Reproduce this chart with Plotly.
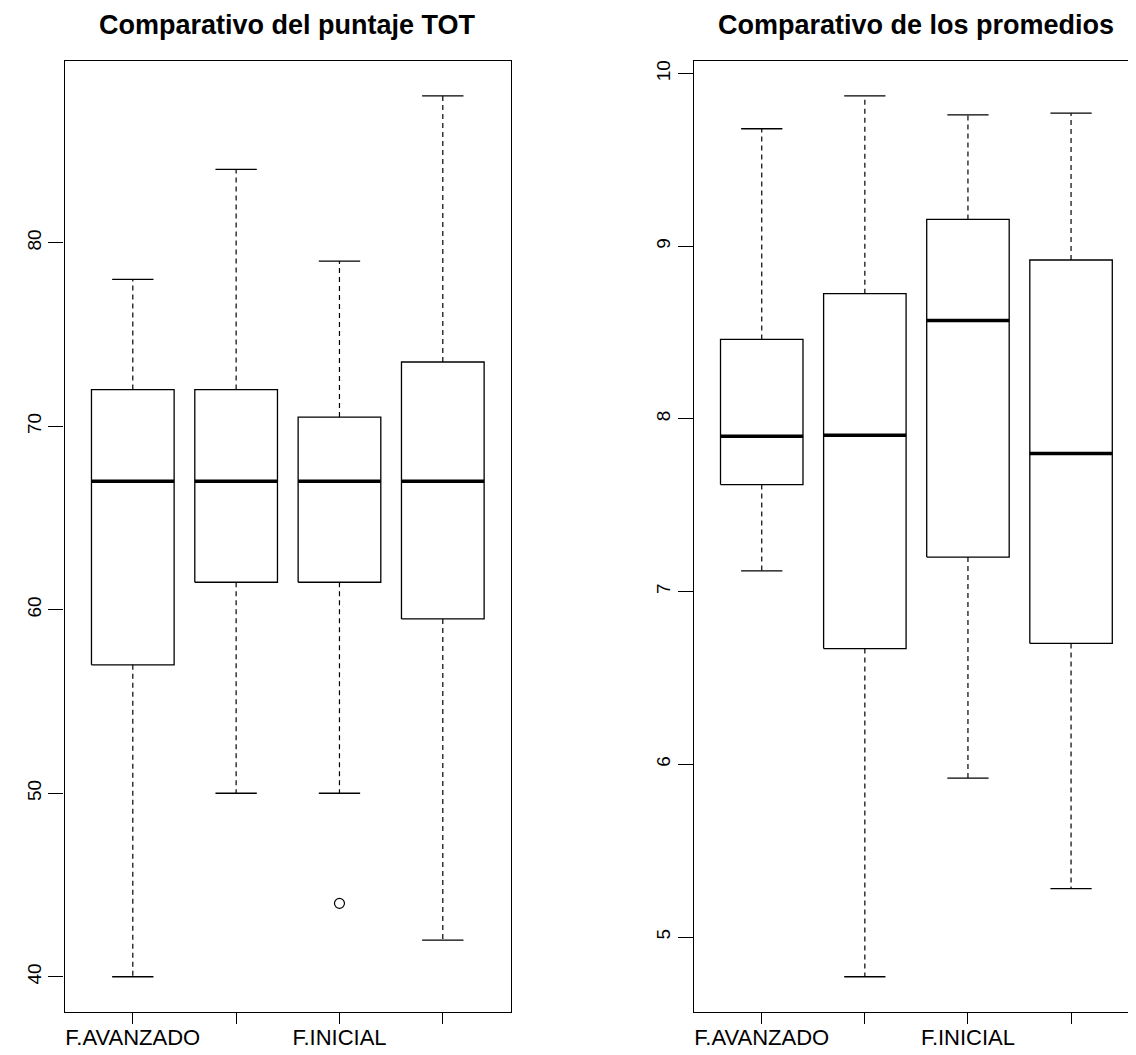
import plotly.graph_objects as go

# ---- data ----
TICK_LABELS = ["F.AVANZADO", "", "F.INICIAL", ""]
POSITIONS = [1, 2, 3, 4]

# Panel 1: puntaje TOT
tot_lower = [40, 50, 50, 42]
tot_q1 = [57, 61.5, 61.5, 59.5]
tot_median = [67, 67, 67, 67]
tot_q3 = [72, 72, 70.5, 73.5]
tot_upper = [78, 84, 79, 88]
tot_outlier_x = [3]
tot_outlier_y = [44]

# Panel 2: promedios
prom_lower = [7.12, 4.77, 5.92, 5.28]
prom_q1 = [7.62, 6.67, 7.20, 6.70]
prom_median = [7.90, 7.905, 8.57, 7.80]
prom_q3 = [8.46, 8.725, 9.155, 8.92]
prom_upper = [9.68, 9.87, 9.76, 9.77]

TITLES = ["Comparativo del puntaje TOT", "Comparativo de los promedios"]

# ---- style ----
FONT = "Liberation Sans, Arial, Helvetica, sans-serif"
OFF = 8  # page body margin
W, H = 1136 - OFF, 1055 - OFF
BOX_HALF = 0.4
CAP_HALF = 0.2
LW = 1.3


def px_x(v):
    return (v - OFF) / W


def px_y(v):
    return 1 - (v - OFF) / H


fig = go.Figure()


def add_panel(xa, ya, lower, q1, med, q3, upper):
    bx, by, mx, my, wx, wy, cx, cy = [], [], [], [], [], [], [], []
    for i, p in enumerate(POSITIONS):
        bx += [p - BOX_HALF, p + BOX_HALF, p + BOX_HALF, p - BOX_HALF, p - BOX_HALF, None]
        by += [q1[i], q1[i], q3[i], q3[i], q1[i], None]
        mx += [p - BOX_HALF, p + BOX_HALF, None]
        my += [med[i], med[i], None]
        wx += [p, p, None, p, p, None]
        wy += [q3[i], upper[i], None, q1[i], lower[i], None]
        cx += [p - CAP_HALF, p + CAP_HALF, None, p - CAP_HALF, p + CAP_HALF, None]
        cy += [upper[i], upper[i], None, lower[i], lower[i], None]
    common = dict(xaxis=xa, yaxis=ya, mode="lines", hoverinfo="skip", showlegend=False)
    fig.add_trace(go.Scatter(x=wx, y=wy, line=dict(color="black", width=1.2, dash="5px,4px"), **common))
    fig.add_trace(go.Scatter(x=cx, y=cy, line=dict(color="black", width=LW), **common))
    fig.add_trace(go.Scatter(x=bx, y=by, line=dict(color="black", width=LW), **common))
    fig.add_trace(go.Scatter(x=mx, y=my, line=dict(color="black", width=3.5), **common))


add_panel("x", "y", tot_lower, tot_q1, tot_median, tot_q3, tot_upper)
fig.add_trace(go.Scatter(x=tot_outlier_x, y=tot_outlier_y, mode="markers", xaxis="x", yaxis="y",
                         marker=dict(symbol="circle-open", size=10, color="black", line=dict(width=1.2)),
                         hoverinfo="skip", showlegend=False))
add_panel("x2", "y2", prom_lower, prom_q1, prom_median, prom_q3, prom_upper)


def yrange(lo, hi):
    ext = (max(hi) - min(lo)) * 0.04
    return [min(lo) - ext, max(hi) + ext]


ydom = [px_y(1012), px_y(60.7)]
left_dom = [px_x(64.6), px_x(511)]
right_dom = [px_x(693.7), 1.0]

xcommon = dict(tickvals=POSITIONS, ticktext=TICK_LABELS, ticks="outside", ticklen=11, tickwidth=1.2,
               tickcolor="black", showline=True, linecolor="black", linewidth=1.4, mirror=True,
               showgrid=False, zeroline=False, tickfont=dict(family=FONT, size=22, color="black"),
               ticklabelstandoff=-6)
ycommon = dict(ticks="outside", ticklen=15, tickwidth=1.2, tickcolor="black", showline=True,
               linecolor="black", linewidth=1.4, showgrid=False, zeroline=False, tickangle=-90,
               tickfont=dict(family=FONT, size=19, color="black"), ticklabelstandoff=0)

fig.update_layout(
    width=W, height=H,
    margin=dict(l=0, r=0, t=0, b=0),
    paper_bgcolor="white", plot_bgcolor="white",
    xaxis=dict(domain=left_dom, range=[0.34, 4.66], anchor="y", **xcommon),
    yaxis=dict(domain=ydom, range=yrange(tot_lower + tot_outlier_y, tot_upper), anchor="x",
               tickvals=[40, 50, 60, 70, 80], mirror=True, **ycommon),
    xaxis2=dict(domain=right_dom, range=[0.34, 4.63], anchor="y2", **xcommon),
    yaxis2=dict(domain=ydom, range=yrange(prom_lower, prom_upper), anchor="x2",
                tickvals=[5, 6, 7, 8, 9, 10], mirror=False, **ycommon),
    annotations=[
        dict(text="<b>" + TITLES[0] + "</b>", x=px_x(287.8), y=px_y(25), xref="paper", yref="paper",
             xanchor="center", yanchor="middle", showarrow=False,
             font=dict(family=FONT, size=27, color="black")),
        dict(text="<b>" + TITLES[1] + "</b>", x=px_x(916.4), y=px_y(25), xref="paper", yref="paper",
             xanchor="center", yanchor="middle", showarrow=False,
             font=dict(family=FONT, size=27, color="black")),
    ],
)

fig.write_html("out.html")
